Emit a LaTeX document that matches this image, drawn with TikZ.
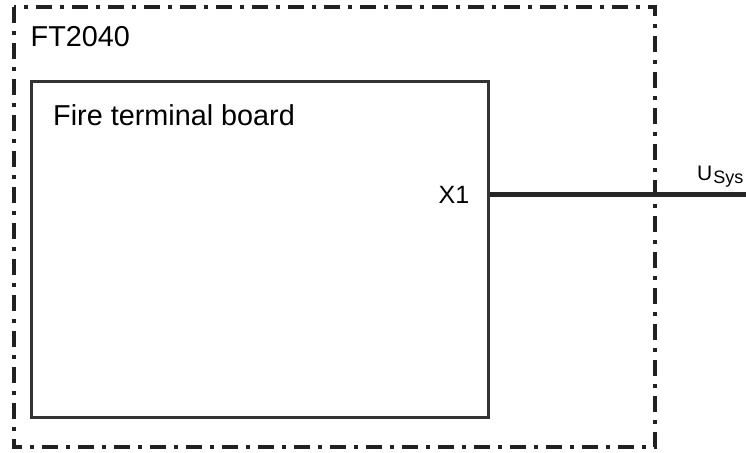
\documentclass[tikz,border=0pt]{standalone}
\usepackage{fontspec}
\setmainfont{Liberation Sans}
\begin{document}
\begin{tikzpicture}[x=1pt,y=-1pt,
  outerframe/.style={draw=black!87, line width=4pt, dash pattern=on 16pt off 8pt on 4pt off 8pt},
  boardbox/.style={draw=black!80, line width=2.7pt, fill=white},
  wire/.style={draw=black!85, line width=5.2pt},
  lbl/.style={inner sep=0pt, font=\fontsize{28.8}{32}\selectfont}
]
\useasboundingbox[fill=white] (0,0) rectangle (746,452);
\coordinate (oTL) at (14,7);
\coordinate (oBR) at (655,447);
\draw[outerframe] (oTL) rectangle (oBR);
\node[lbl, anchor=base west] (ft) at (30.5,46.7) {FT2040};
\node[boardbox, minimum width=457pt, minimum height=336pt, anchor=north west, inner sep=0pt] (board) at (30,80) {};
\node[lbl, anchor=base west] (fname) at (53,125) {Fire terminal board};
\coordinate (x1) at (board.east |- 0,194.5);
\node[inner sep=0pt, anchor=base east, font=\fontsize{25}{28}\selectfont] (x1lbl) at (469.5,203.5) {X1};
\coordinate (wend) at (746,194.5);
\draw[wire] (x1) -- (wend);
\node[inner sep=0pt, anchor=base west, font=\fontsize{21}{24}\selectfont] (usys) at (697,180) {U\kern1pt\raisebox{-3.5pt}{\fontsize{18}{20}\selectfont Sys}};
\end{tikzpicture}
\end{document}
